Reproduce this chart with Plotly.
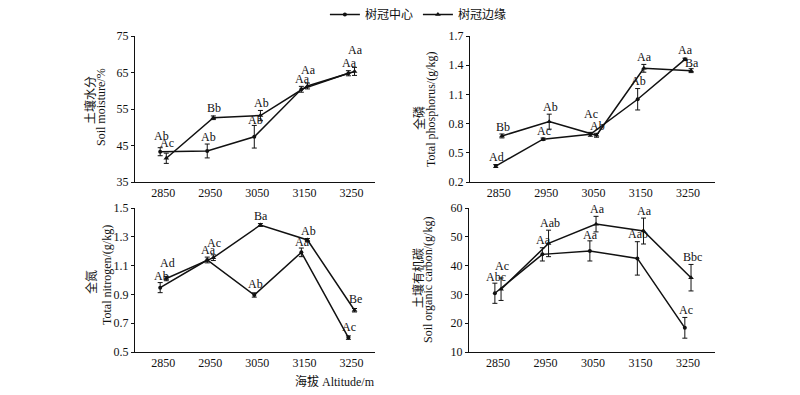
import plotly.graph_objects as go

# ---------------- data ----------------
altitudes = ["2850", "2950", "3050", "3150", "3250"]
series_names = ["树冠中心", "树冠边缘"]

moisture_center = [43.3, 43.5, 47.4, 60.4, 64.8]
moisture_center_err = [1.1, 1.9, 3.1, 0.8, 0.7]
moisture_center_lab = ["Ab", "Ab", "Ab", "Aa", "Aa"]
moisture_edge = [41.5, 52.6, 53.2, 61.3, 65.3]
moisture_edge_err = [1.4, 0.5, 1.4, 0.8, 1.1]
moisture_edge_lab = ["Ac", "Bb", "Ab", "Aa", "Aa"]

phos_center = [0.364, 0.64, 0.69, 1.05, 1.46]
phos_center_err = [0.015, 0.012, 0.02, 0.11, 0.012]
phos_center_lab = ["Ad", "Ac", "Ac", "Ab", "Aa"]
phos_edge = [0.673, 0.82, 0.68, 1.368, 1.344]
phos_edge_err = [0.02, 0.077, 0.02, 0.04, 0.02]
phos_edge_lab = ["Bb", "Ab", "Ab", "Aa", "Ba"]

nitro_center = [0.947, 1.139, 0.896, 1.192, 0.60]
nitro_center_err = [0.035, 0.02, 0.015, 0.03, 0.012]
nitro_center_lab = ["Ab", "Aa", "Ab", "Aa", "Ac"]
nitro_edge = [1.01, 1.155, 1.382, 1.278, 0.79]
nitro_edge_err = [0.015, 0.02, 0.01, 0.01, 0.012]
nitro_edge_lab = ["Ad", "Ac", "Ba", "Ab", "Be"]

soc_center = [30.4, 43.9, 45.1, 42.5, 18.4]
soc_center_err = [3.5, 2.3, 3.5, 5.8, 3.6]
soc_center_lab = ["Abc", "Aa", "Aa", "Aab", "Ac"]
soc_edge = [31.8, 47.7, 54.4, 52.0, 35.8]
soc_edge_err = [3.9, 4.6, 2.7, 4.5, 4.6]
soc_edge_lab = ["Ac", "Aab", "Aa", "Aa", "Bbc"]

# ---------------- style ----------------
SERIF = "Liberation Serif, Times New Roman, Noto Sans CJK SC, serif"
BLACK = "#111111"
DODGE = 0.065
# small typographic nudges (px) for the significance letters
lift_center = [[4, 0, -2, 0, 0], [0, 0, 11, 0, 1], [-1, 0, 1, -1, 1], [-1, 0, -2, 0, 0]]
lift_edge = [[3, 0, 0, 6, 10], [0, 0, 0, 0, -2], [6, 4, 0, 0, 2], [4, 0, 0, 0, 0]]

panels = [
    dict(c=moisture_center, ce=moisture_center_err, cl=moisture_center_lab,
         e=moisture_edge, ee=moisture_edge_err, el=moisture_edge_lab,
         yr=[35, 75], t0=35, dt=10, fmt="d",
         xd=[135 / 800, 375 / 800], yd=[1 - 182 / 395, 1 - 36 / 395], xr=[-0.6, 4.5],
         zh="土壤水分", en="Soil moisture/%", zx=89, zy=100, ex=101, ey=107),
    dict(c=phos_center, ce=phos_center_err, cl=phos_center_lab,
         e=phos_edge, ee=phos_edge_err, el=phos_edge_lab,
         yr=[0.2, 1.7], t0=0.2, dt=0.3, fmt=".1f",
         xd=[470 / 800, 715 / 800], yd=[1 - 182 / 395, 1 - 36 / 395], xr=[-0.61, 4.57],
         zh="全磷", en="Total phosphorus/(g/kg)", zx=418, zy=118, ex=431, ey=109),
    dict(c=nitro_center, ce=nitro_center_err, cl=nitro_center_lab,
         e=nitro_edge, ee=nitro_edge_err, el=nitro_edge_lab,
         yr=[0.5, 1.5], t0=0.5, dt=0.2, fmt=".1f",
         xd=[135 / 800, 375 / 800], yd=[1 - 352 / 395, 1 - 208 / 395], xr=[-0.6, 4.5],
         zh="全氮", en="Total nitrogen/(g/kg)", zx=90, zy=282, ex=107, ey=275),
    dict(c=soc_center, ce=soc_center_err, cl=soc_center_lab,
         e=soc_edge, ee=soc_edge_err, el=soc_edge_lab,
         yr=[10, 60], t0=10, dt=10, fmt="d",
         xd=[469 / 800, 715 / 800], yd=[1 - 352 / 395, 1 - 208 / 395], xr=[-0.61, 4.57],
         zh="土壤有机碳", en="Soil organic carbon/(g/kg)", zx=417, zy=278, ex=428, ey=280),
]

fig = go.Figure()
annotations = []
idx = list(range(len(altitudes)))

for k, p in enumerate(panels):
    sfx = "" if k == 0 else str(k + 1)
    xa, ya = "x" + sfx, "y" + sfx
    for vals, errs, labs, name, sym, size, off, lifts in [
        (p["c"], p["ce"], p["cl"], series_names[0], "circle", 4, -DODGE, lift_center[k]),
        (p["e"], p["ee"], p["el"], series_names[1], "triangle-up", 5, DODGE, lift_edge[k]),
    ]:
        xs = [i + off for i in idx]
        fig.add_trace(go.Scatter(
            x=xs, y=vals, xaxis=xa, yaxis=ya, name=name, mode="lines+markers",
            line=dict(color=BLACK, width=1.5),
            marker=dict(symbol=sym, size=size, color=BLACK),
            error_y=dict(type="data", array=errs, visible=True, color=BLACK,
                         thickness=1, width=2.5),
            showlegend=(k == 0), legendgroup=name,
        ))
        for i in idx:
            annotations.append(dict(
                x=xs[i], y=vals[i] + errs[i], xref=xa, yref=ya, text=labs[i],
                showarrow=False, yanchor="bottom", xanchor="center",
                yshift=-1.5 + lifts[i], xshift=1,
                font=dict(family=SERIF, size=12, color=BLACK)))
    axis_common = dict(showline=True, linecolor=BLACK, linewidth=1, showgrid=False,
                       zeroline=False, tickfont=dict(family=SERIF, size=12, color=BLACK))
    fig.layout["xaxis" + sfx] = dict(
        axis_common, domain=p["xd"], range=p["xr"], anchor=ya,
        tickmode="array", tickvals=idx, ticktext=altitudes, ticks="")
    fig.layout["yaxis" + sfx] = dict(
        axis_common, domain=p["yd"], range=p["yr"], anchor=xa,
        tick0=p["t0"], dtick=p["dt"], tickformat=p["fmt"],
        ticks="outside", ticklen=3, tickcolor=BLACK)
    annotations.append(dict(x=p["zx"] / 800, y=1 - p["zy"] / 395, xref="paper", yref="paper",
                            text=p["zh"], textangle=-90, showarrow=False,
                            xanchor="center", yanchor="middle",
                            font=dict(family="Noto Sans CJK SC", size=12, color=BLACK)))
    annotations.append(dict(x=p["ex"] / 800, y=1 - p["ey"] / 395, xref="paper", yref="paper",
                            text=p["en"], textangle=-90, showarrow=False,
                            xanchor="center", yanchor="middle",
                            font=dict(family=SERIF, size=12, color=BLACK)))

annotations.append(dict(x=335 / 800, y=1 - 381 / 395, xref="paper", yref="paper",
                        text="海拔 Altitude/m", showarrow=False,
                        xanchor="center", yanchor="middle",
                        font=dict(family=SERIF, size=12, color=BLACK)))

fig.update_layout(
    width=800, height=395,
    margin=dict(l=0, r=0, t=0, b=0, autoexpand=False),
    paper_bgcolor="white", plot_bgcolor="white",
    annotations=annotations,
    legend=dict(orientation="h", x=0.523, xanchor="center", y=1.0, yanchor="top",
                font=dict(family="Noto Sans CJK SC", size=12, color=BLACK),
                itemwidth=30, bgcolor="rgba(0,0,0,0)"),
)

fig.write_html("out.html", config={"displayModeBar": False},
               post_script="document.body.style.margin='0px';document.body.style.overflow='hidden';")
